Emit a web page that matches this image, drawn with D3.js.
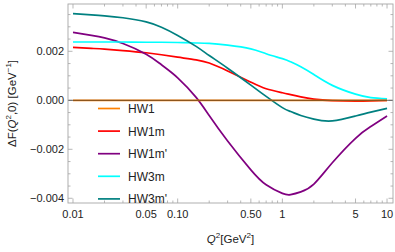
<!DOCTYPE html>
<html>
<head>
<meta charset="utf-8">
<script src="https://cdn.jsdelivr.net/npm/d3@7"></script>
<style>
  body { margin: 0; background: #fff; }
  text { font-family: 'Liberation Sans', Arial, sans-serif; fill: #222; }
</style>
</head>
<body>
<svg></svg>
<script>
// Q^2 grid [GeV^2] and series values (x 1e-3 GeV^-1)
const q2 = [0.01, 0.015, 0.02, 0.03, 0.05, 0.07, 0.1, 0.15, 0.2, 0.3, 0.5, 0.7, 1, 1.2, 1.5, 2, 3, 5, 7, 10];
const hw1 = [0, 0, 0, 0, 0, 0, 0, 0, 0, 0, 0, 0, 0, 0, 0, 0, 0, 0, 0, 0];
const hw1m = [2.16, 2.12, 2.09, 2.03, 1.94, 1.86, 1.76, 1.65, 1.52, 1.2, 0.74, 0.47, 0.31, 0.23, 0.14, 0.05, -0.01, -0.03, -0.02, 0];
const hw1mp = [2.77, 2.65, 2.55, 2.32, 1.88, 1.45, 0.92, 0.12, -0.62, -1.66, -2.84, -3.45, -3.8, -3.85, -3.74, -3.42, -2.55, -1.55, -1.07, -0.64];
const hw3m = [2.38, 2.38, 2.38, 2.38, 2.37, 2.37, 2.36, 2.34, 2.32, 2.25, 2.1, 1.9, 1.7, 1.57, 1.37, 1.05, 0.61, 0.25, 0.11, 0.06];
const hw3mp = [3.54, 3.49, 3.45, 3.37, 3.2, 2.98, 2.65, 2.2, 1.83, 1.31, 0.62, 0.16, -0.3, -0.46, -0.62, -0.77, -0.84, -0.64, -0.48, -0.33];

const seriesNames = ['HW1', 'HW1m', "HW1m'", 'HW3m', "HW3m'"];
const seriesValues = [hw1, hw1m, hw1mp, hw3m, hw3mp];
const seriesColors = ['#ff8000', '#ff0000', '#800080', '#00ffff', '#008080'];

const xTicksMajor = [0.01, 0.05, 0.1, 0.5, 1, 5, 10];
const xTickLabels = ['0.01', '0.05', '0.10', '0.50', '1', '5', '10'];
const yTicksMajor = [-0.004, -0.002, 0, 0.002];

const width = 395;
const height = 252;
const margin = { left: 68, right: 2, top: 4, bottom: 49 };

const svg = d3.select('svg')
  .attr('width', width)
  .attr('height', height);

const x = d3.scaleLog()
  .domain([0.00896, 11.4])
  .range([margin.left, width - margin.right]);
const y = d3.scaleLinear()
  .domain([-0.004192, 0.003931])
  .range([height - margin.bottom, margin.top]);

const x0 = margin.left;
const x1 = width - margin.right;
const y0 = height - margin.bottom;
const y1 = margin.top;

// minor ticks
const xMinor = [];
[0.01, 0.1, 1].forEach((d) => {
  for (let k = 2; k <= 9; k++) xMinor.push(d * k);
});
const xMinorOnly = xMinor.filter(v => !xTicksMajor.some(m => Math.abs(m - v) < 1e-9));
const yMinor = d3.range(-0.004, 0.0039, 0.0005).filter(v => !yTicksMajor.some(m => Math.abs(m - v) < 1e-9));

const frameColor = '#a6a6a6';
const ticks = svg.append('g').attr('stroke', frameColor).attr('stroke-width', 0.8);

// x ticks, bottom and top, pointing inward
const xt = (vals, len) => {
  vals.forEach((v) => {
    ticks.append('line').attr('x1', x(v)).attr('x2', x(v)).attr('y1', y0).attr('y2', y0 - len);
    ticks.append('line').attr('x1', x(v)).attr('x2', x(v)).attr('y1', y1).attr('y2', y1 + len);
  });
};
xt(xTicksMajor, 4.5);
xt(xMinorOnly, 2.5);

const yt = (vals, len) => {
  vals.forEach((v) => {
    ticks.append('line').attr('x1', x0).attr('x2', x0 + len).attr('y1', y(v)).attr('y2', y(v));
    ticks.append('line').attr('x1', x1).attr('x2', x1 - len).attr('y1', y(v)).attr('y2', y(v));
  });
};
yt(yTicksMajor, 4.5);
yt(yMinor, 2.5);

// curves
const line = d3.line()
  .x(d => x(d[0]))
  .y(d => y(d[1] * 1e-3))
  .curve(d3.curveNatural);

const plot = svg.append('g');
[1, 2, 3, 4, 0].forEach((i) => {
  plot.append('path')
    .datum(q2.map((q, j) => [q, seriesValues[i][j]]))
    .attr('fill', 'none')
    .attr('stroke', seriesColors[i])
    .attr('stroke-width', 1.7)
    .attr('d', line);
});

// zero axis line
svg.append('line')
  .attr('x1', x0).attr('x2', x1)
  .attr('y1', y(0)).attr('y2', y(0))
  .attr('stroke', '#333')
  .attr('stroke-width', 0.7);

// frame
svg.append('rect')
  .attr('x', x0).attr('y', y1)
  .attr('width', x1 - x0).attr('height', y0 - y1)
  .attr('fill', 'none')
  .attr('stroke', frameColor)
  .attr('stroke-width', 0.9);

// tick labels
svg.append('g').selectAll('text')
  .data(xTicksMajor)
  .enter()
  .append('text')
  .attr('x', d => x(d))
  .attr('y', y0 + 15)
  .attr('text-anchor', 'middle')
  .attr('font-size', 11)
  .text((d, i) => xTickLabels[i]);

const fmt = d3.format('.3f');
svg.append('g').selectAll('text')
  .data(yTicksMajor)
  .enter()
  .append('text')
  .attr('x', x0 - 4)
  .attr('y', d => y(d) + 4)
  .attr('text-anchor', 'end')
  .attr('font-size', 11)
  .text(d => fmt(d));

// axis titles
const xl = svg.append('text')
  .attr('x', (x0 + x1) / 2)
  .attr('y', 243)
  .attr('text-anchor', 'middle')
  .attr('font-size', 11.5);
xl.append('tspan').attr('font-style', 'italic').text('Q');
xl.append('tspan').attr('font-size', 8).attr('dy', -5).text('2');
xl.append('tspan').attr('dy', 5).text('[GeV');
xl.append('tspan').attr('font-size', 8).attr('dy', -5).text('2');
xl.append('tspan').attr('dy', 5).text(']');

const yl = svg.append('text')
  .attr('transform', `translate(16,${(y0 + y1) / 2}) rotate(-90)`)
  .attr('text-anchor', 'middle')
  .attr('font-size', 11.5);
yl.append('tspan').text('ΔF(');
yl.append('tspan').attr('font-style', 'italic').text('Q');
yl.append('tspan').attr('font-size', 8).attr('dy', -5).text('2');
yl.append('tspan').attr('dy', 5).text(',0) [GeV');
yl.append('tspan').attr('font-size', 8).attr('dy', -5).text('−1');
yl.append('tspan').attr('dy', 5).text(']');

// legend
const legend = svg.append('g')
  .selectAll('g')
  .data(seriesNames)
  .enter()
  .append('g')
  .attr('transform', (d, i) => `translate(98,${108.5 + i * 22.6})`);
legend.append('line')
  .attr('x1', 0).attr('x2', 22)
  .attr('stroke', (d, i) => seriesColors[i])
  .attr('stroke-width', 1.7);
legend.append('text')
  .attr('x', 30)
  .attr('y', 4.5)
  .attr('font-size', 12)
  .text(d => d);
</script>
</body>
</html>
